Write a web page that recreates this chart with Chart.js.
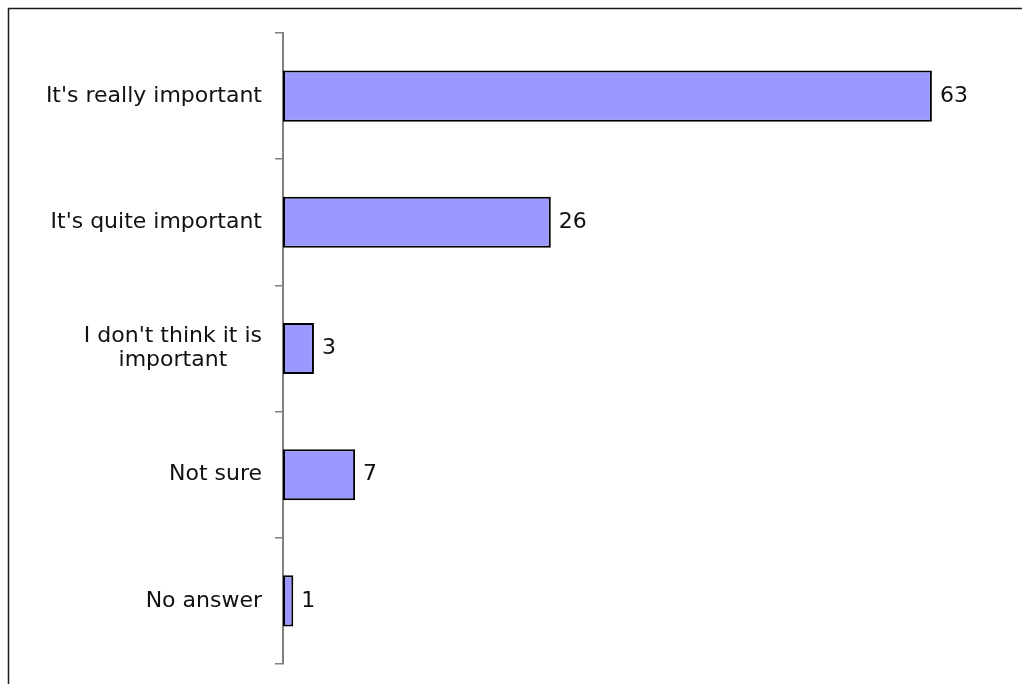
<!DOCTYPE html>
<html>
<head>
<meta charset="utf-8">
<script src="https://cdn.jsdelivr.net/npm/chart.js@4/dist/chart.umd.min.js"></script>
<style>
  html, body { margin: 0; padding: 0; background: #fff; }
  #wrap { width: 1022px; height: 684px; position: relative; }
</style>
</head>
<body>
<div id="wrap"><canvas id="c"></canvas></div>
<script>
// Survey responses: how important is it?
const categories = [
  ["It's really important"],
  ["It's quite important"],
  ["I don't think it is", "important"],
  ["Not sure"],
  ["No answer"]
];
const values = [63, 26, 3, 7, 1];

const FONT = "'DejaVu Sans', Verdana, sans-serif";
const FONT_SIZE = 22;

// Outer frame (top and left edges visible)
const framePlugin = {
  id: 'frame',
  beforeDraw(chart) {
    const ctx = chart.ctx;
    ctx.save();
    ctx.strokeStyle = '#1a1a1a';
    ctx.lineWidth = 1.5;
    ctx.beginPath();
    ctx.moveTo(8.5, chart.height + 2);
    ctx.lineTo(8.5, 8.5);
    ctx.lineTo(chart.width + 2, 8.5);
    ctx.stroke();
    ctx.restore();
  }
};

// Category labels: block right-aligned to the axis, lines centred within the block
const catLabelPlugin = {
  id: 'catLabels',
  afterDraw(chart) {
    const ctx = chart.ctx;
    const y = chart.scales.y;
    ctx.save();
    ctx.font = FONT_SIZE + 'px ' + FONT;
    ctx.fillStyle = '#111';
    ctx.textBaseline = 'middle';
    ctx.textAlign = 'center';
    const right = y.right - 21;
    const lineH = 24;
    categories.forEach((lines, i) => {
      const cy = y.getPixelForValue(i);
      const w = Math.max(...lines.map(l => ctx.measureText(l).width));
      const cx = right - w / 2;
      const y0 = cy - (lines.length - 1) * lineH / 2;
      lines.forEach((l, j) => ctx.fillText(l, cx, y0 + j * lineH));
    });
    ctx.restore();
  }
};

// Value labels at the end of each bar
const valueLabelPlugin = {
  id: 'valueLabels',
  afterDatasetsDraw(chart) {
    const ctx = chart.ctx;
    const meta = chart.getDatasetMeta(0);
    ctx.save();
    ctx.font = FONT_SIZE + 'px ' + FONT;
    ctx.fillStyle = '#111';
    ctx.textBaseline = 'middle';
    ctx.textAlign = 'left';
    meta.data.forEach((bar, i) => {
      ctx.fillText(String(values[i]), bar.x + 8, bar.y);
    });
    ctx.restore();
  }
};

new Chart(document.getElementById('c'), {
  type: 'bar',
  data: {
    labels: categories.map(l => l.join(' ')),
    datasets: [{
      data: values,
      backgroundColor: '#9999FF',
      borderColor: '#000',
      borderWidth: 2,
      borderSkipped: false,
      barPercentage: 0.405,
      categoryPercentage: 1.0
    }]
  },
  options: {
    indexAxis: 'y',
    responsive: true,
    maintainAspectRatio: false,
    animation: false,
    layout: { padding: { top: 33, bottom: 20, left: 0, right: 18 } },
    plugins: {
      legend: { display: false },
      tooltip: { enabled: false }
    },
    scales: {
      x: {
        display: false,
        min: 0,
        max: 70
      },
      y: {
        afterFit(scale) { scale.width = 283; },
        grid: {
          offset: true,
          drawOnChartArea: false,
          drawTicks: true,
          tickLength: 8,
          color: '#808080',
          lineWidth: 1.5
        },
        border: { display: true, color: '#808080', width: 2 },
        ticks: { color: 'rgba(0,0,0,0)', font: { size: 12, family: FONT } }
      }
    }
  },
  plugins: [framePlugin, catLabelPlugin, valueLabelPlugin]
});
</script>
</body>
</html>
